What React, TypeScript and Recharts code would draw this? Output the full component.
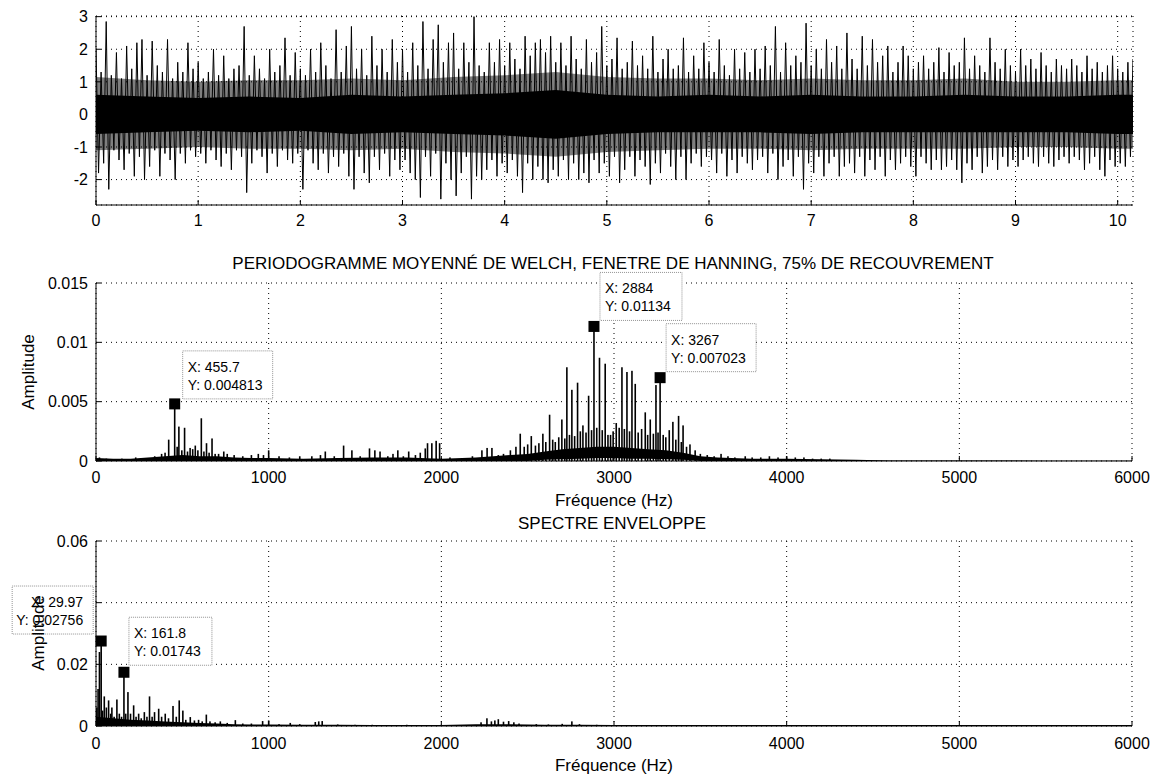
import React from "react";
import {
  ComposedChart, Line, Area, Bar, XAxis, YAxis, CartesianGrid, ReferenceDot,
} from "recharts";

const FONT = '"Liberation Sans", Arial, Helvetica, sans-serif';

// ---- top: raw signal (peak of each half-cycle, alternating sign) ----
const SIGNAL_STEP = 0.025;
const SIGNAL_PEAKS = [
  2.0, -1.8, 1.3, -1.5, 2.85, -2.3, 1.2, -1.1, 1.9, -1.4, 1.1, -1.7, 2.1, -1.2, 1.4, -1.9, 2.2, -1.3, 2.3, -2.0,
  1.2, -1.6, 2.25, -1.1, 1.5, -1.9, 1.3, -1.2, 2.3, -1.4, 1.1, -2.0, 1.6, -1.2, 1.3, -1.5, 2.2, -1.1, 1.4, -1.3,
  1.6, -1.2, 1.1, -1.5, 1.3, -1.1, 2.0, -1.4, 1.2, -1.6, 1.8, -1.2, 1.1, -1.7, 1.4, -1.1, 1.5, -1.3, 2.7, -2.4,
  1.2, -1.5, 1.8, -1.1, 1.4, -1.3, 1.1, -1.8, 2.0, -1.2, 1.3, -1.6, 1.5, -1.1, 2.35, -1.4, 1.2, -1.5, 1.9, -1.2,
  1.4, -2.3, 1.2, -1.1, 2.0, -1.5, 1.3, -1.7, 2.2, -1.2, 1.5, -1.8, 1.1, -1.3, 2.6, -1.6, 1.3, -1.2, 2.1, -1.9,
  2.7, -2.3, 1.4, -1.3, 2.0, -1.8, 1.2, -2.1, 2.4, -1.3, 1.5, -1.7, 2.0, -1.2, 1.3, -1.9, 2.3, -1.4, 1.6, -1.7,
  2.0, -1.4, 1.3, -1.8, 2.2, -2.0, 1.5, -2.55, 2.85, -1.3, 1.4, -1.9, 2.3, -1.2, 2.75, -2.6, 1.6, -1.5, 2.2, -2.0,
  2.5, -2.5, 1.4, -1.8, 2.2, -1.3, 1.6, -2.6, 3.0, -1.9, 1.5, -2.0, 1.3, -1.7, 2.2, -1.4, 1.6, -1.9, 2.3, -1.5,
  1.5, -1.8, 2.2, -1.4, 1.7, -1.9, 1.4, -2.4, 2.4, -1.5, 1.8, -2.0, 2.2, -1.6, 2.3, -2.0, 1.9, -2.1, 2.4, -1.7,
  1.6, -1.9, 2.2, -1.4, 1.5, -2.0, 2.4, -1.5, 1.7, -2.0, 1.4, -1.8, 2.3, -2.1, 1.6, -1.4, 1.9, -1.8, 2.7, -1.5,
  1.5, -1.9, 1.7, -1.3, 2.35, -2.1, 1.4, -1.7, 1.6, -1.3, 2.25, -1.9, 1.5, -1.4, 1.8, -1.6, 1.4, -2.15, 2.4, -1.5,
  1.3, -1.8, 1.7, -1.2, 2.0, -1.6, 1.4, -2.0, 1.5, -1.3, 2.35, -2.0, 1.3, -1.5, 1.8, -1.2, 1.4, -1.6, 2.2, -1.3,
  1.6, -1.4, 1.3, -1.8, 2.3, -1.2, 1.5, -1.9, 1.2, -1.4, 2.0, -1.8, 1.4, -1.3, 1.9, -1.5, 1.3, -1.7, 2.0, -1.4,
  1.4, -1.3, 2.1, -1.8, 1.5, -1.2, 2.7, -2.0, 1.3, -1.6, 2.2, -1.4, 1.5, -1.9, 1.8, -1.3, 1.6, -2.3, 2.8, -1.5,
  1.5, -1.8, 2.0, -1.3, 1.4, -1.9, 2.3, -1.5, 1.6, -1.3, 2.1, -1.9, 1.4, -1.6, 2.5, -1.5, 1.7, -1.8, 1.4, -1.3,
  2.4, -1.9, 1.5, -1.4, 2.3, -1.7, 1.6, -1.3, 1.8, -1.9, 2.1, -1.4, 1.3, -1.7, 1.6, -1.5, 2.1, -1.3, 1.8, -1.6,
  1.4, -1.9, 1.6, -1.3, 1.8, -1.5, 1.4, -1.7, 1.6, -1.4, 2.05, -1.7, 1.3, -1.6, 1.9, -1.4, 1.5, -1.7, 1.6, -2.1,
  2.35, -1.5, 1.4, -1.7, 1.8, -1.3, 1.5, -1.8, 1.3, -1.6, 2.35, -1.4, 1.6, -1.7, 1.4, -1.3, 2.0, -1.6, 1.5, -1.4,
  1.3, -1.6, 2.0, -1.4, 1.5, -1.3, 1.7, -1.5, 1.4, -1.6, 1.9, -1.3, 1.5, -1.5, 1.3, -1.6, 1.7, -1.4, 1.5, -1.3,
  1.4, -1.5, 1.7, -1.3, 1.5, -1.4, 1.3, -1.7, 1.8, -1.5, 1.4, -1.3, 1.6, -1.7, 1.3, -1.9, 1.5, -1.4, 1.8, -1.6,
  1.4, -1.5, 1.3, -1.6, 1.6, -1.3, 1.7,
];
// envelopes of the solid black core and of the dense band around it
const BAND_T = [0, 0.5, 1, 1.5, 2, 2.5, 3, 3.5, 4, 4.5, 5, 5.5, 6, 6.5, 7, 7.5, 8, 8.5, 9, 9.5, 10, 10.15];
const CORE_HI = [0.6, 0.55, 0.5, 0.55, 0.5, 0.6, 0.55, 0.6, 0.65, 0.75, 0.6, 0.55, 0.6, 0.55, 0.6, 0.55, 0.55, 0.6, 0.55, 0.55, 0.6, 0.6];
const CORE_LO = [-0.6, -0.55, -0.5, -0.55, -0.5, -0.6, -0.55, -0.6, -0.65, -0.75, -0.6, -0.55, -0.55, -0.55, -0.6, -0.55, -0.55, -0.55, -0.55, -0.55, -0.6, -0.6];
const DENSE_HI = [1.15, 1.05, 1.0, 1.05, 1.05, 1.1, 1.05, 1.15, 1.2, 1.3, 1.15, 1.1, 1.1, 1.05, 1.1, 1.05, 1.05, 1.1, 1.0, 1.0, 1.05, 1.05];
const DENSE_LO = [-1.1, -1.05, -1.0, -1.05, -1.05, -1.1, -1.05, -1.15, -1.2, -1.3, -1.15, -1.1, -1.05, -1.05, -1.1, -1.05, -1.05, -1.05, -1.0, -1.0, -1.05, -1.05];
const TIME_TICKS = [0, 1, 2, 3, 4, 5, 6, 7, 8, 9, 10];
const SIGNAL_TICKS = [-2, -1, 0, 1, 2, 3];

// ---- middle: Welch periodogram ----
const WELCH_F = [
  20, 60, 150, 230, 300, 340, 380, 400, 421, 455.7,
  470, 480, 497, 513, 530, 545, 560, 575, 590, 610,
  625, 640, 655, 672, 690, 710, 740, 760, 800, 850,
  900, 940, 970, 1000, 1060, 1120, 1180, 1250, 1300, 1328,
  1380, 1434, 1482, 1530, 1584, 1615, 1645, 1690, 1720, 1748,
  1780, 1811, 1850, 1878, 1907, 1920, 1945, 1970, 1990, 2050,
  2120, 2180, 2235, 2265, 2293, 2330, 2360, 2400, 2432, 2457,
  2480, 2500, 2521, 2545, 2565, 2588, 2605, 2627, 2645, 2660,
  2680, 2698, 2715, 2727, 2742, 2756, 2772, 2789, 2805, 2820,
  2838, 2853, 2870, 2884, 2900, 2916, 2932, 2949, 2965, 2980,
  2995, 3013, 3030, 3046, 3060, 3075, 3090, 3104, 3123, 3140,
  3160, 3181, 3195, 3210, 3228, 3243, 3255, 3267, 3285, 3300,
  3320, 3341, 3358, 3374, 3390, 3400, 3420, 3440, 3470, 3500,
  3540, 3580, 3620, 3660, 3700, 3760, 3800, 3850, 3900, 3950,
  4000, 4050, 4100, 4150, 4200, 4250,
];
const WELCH_A = [
  0.0003, 0.0002, 0.0002, 0.0003, 0.0002, 0.0004, 0.0006, 0.0007, 0.0018, 0.004813,
  0.0012, 0.0029, 0.0009, 0.0028, 0.0008, 0.0011, 0.001, 0.0013, 0.0009, 0.0036,
  0.0008, 0.0015, 0.0007, 0.0019, 0.0006, 0.0006, 0.0008, 0.0006, 0.0005, 0.0004,
  0.0005, 0.0006, 0.0005, 0.0009, 0.0004, 0.0003, 0.0004, 0.0004, 0.0005, 0.0008,
  0.0004, 0.0013, 0.0009, 0.0004, 0.00106, 0.0009, 0.0008, 0.0004, 0.0006, 0.0009,
  0.0004, 0.0008, 0.0005, 0.0007, 0.00106, 0.0015, 0.0015, 0.0017, 0.0015, 0.0003,
  0.0002, 0.0004, 0.0009, 0.0011, 0.0011, 0.0005, 0.0006, 0.0009, 0.0012, 0.0023,
  0.0012, 0.0014, 0.0021, 0.0013, 0.0015, 0.0023, 0.0016, 0.0039, 0.0018, 0.0016,
  0.002, 0.0035, 0.0019, 0.0079, 0.0022, 0.006, 0.0021, 0.0066, 0.0025, 0.003,
  0.0024, 0.0055, 0.0026, 0.01134, 0.0028, 0.0087, 0.0026, 0.0082, 0.0022, 0.0022,
  0.0025, 0.0032, 0.0028, 0.0079, 0.0027, 0.0075, 0.0025, 0.0076, 0.0065, 0.0024,
  0.0027, 0.0041, 0.0022, 0.0035, 0.0023, 0.0064, 0.0024, 0.007023, 0.0022, 0.002,
  0.0026, 0.0033, 0.0018, 0.0038, 0.0016, 0.003, 0.0012, 0.0014, 0.0009, 0.0006,
  0.0005, 0.0004, 0.0006, 0.0004, 0.0003, 0.0004, 0.0003, 0.0003, 0.0004, 0.0003,
  0.0004, 0.0003, 0.0003, 0.0002, 0.0002, 0.0002,
];
// noise floor of the periodogram (lower and upper edge of the black band)
const WELCH_FLOOR_F = [0, 100, 200, 300, 400, 500, 600, 700, 800, 900, 1000, 1200, 1400, 1600, 1800, 2000, 2200, 2300, 2400, 2500, 2600, 2700, 2800, 2900, 3000, 3100, 3200, 3300, 3400, 3500, 3600, 3800, 4000, 4200, 4400, 4600, 5000, 5500, 6000];
const WELCH_FLOOR_LO = [0, 0, 0, 0, 0, 0, 0, 0, 0, 0, 0, 0, 0, 0, 0, 0, 0, 0, 0, 0, 0.0001, 0.00015, 0.0002, 0.00025, 0.00025, 0.0002, 0.0002, 0.00015, 0.0001, 0, 0, 0, 0, 0, 0, 0, 0, 0, 0];
const WELCH_FLOOR_HI = [0.00025, 0.0002, 0.0002, 0.0003, 0.0004, 0.0005, 0.0004, 0.0004, 0.0003, 0.00025, 0.00025, 0.0002, 0.00025, 0.0003, 0.0003, 0.0002, 0.0003, 0.0004, 0.0005, 0.0006, 0.0008, 0.001, 0.0011, 0.0012, 0.0012, 0.0011, 0.001, 0.0009, 0.0007, 0.0004, 0.0003, 0.0002, 0.0002, 0.00015, 0.0001, 0.00005, 0.00005, 0.00003, 0.00003];
const WELCH_TICKS = [0, 0.005, 0.01, 0.015];
const WELCH_TIP_X = [455.7, 2884, 3267];
const WELCH_TIP_Y = [0.004813, 0.01134, 0.007023];

// ---- bottom: envelope spectrum ----
const ENV_F = [
  5, 12, 20, 29.97, 38, 48, 60, 73, 85, 92,
  105, 121, 135, 148, 161.8, 172, 185, 200, 218, 232,
  247, 262, 280, 295, 310, 325, 339, 363, 380, 401,
  420, 446, 465, 482, 503, 520, 546, 570, 594, 615,
  639, 660, 690, 720, 760, 807, 850, 900, 965, 1000,
  1060, 1125, 1180, 1270, 1290, 1310, 1400, 1500, 1600, 1700,
  1800, 1900, 2000, 2100, 2230, 2264, 2290, 2310, 2330, 2360,
  2390, 2420, 2450, 2550, 2620, 2700, 2756, 2800, 2900, 3100,
  3400, 3800, 4200, 4600, 5000, 5400, 5800,
];
const ENV_A = [
  0.006, 0.012, 0.024, 0.02756, 0.005, 0.0096, 0.006, 0.0083, 0.004, 0.006,
  0.003, 0.0086, 0.004, 0.003, 0.01743, 0.004, 0.011, 0.004, 0.0067, 0.003,
  0.004, 0.0025, 0.0045, 0.003, 0.0096, 0.003, 0.0045, 0.0056, 0.003, 0.004,
  0.0025, 0.0065, 0.003, 0.0083, 0.005, 0.002, 0.0029, 0.0018, 0.002, 0.0015,
  0.0037, 0.0015, 0.0012, 0.0015, 0.001, 0.0019, 0.0008, 0.0008, 0.0016, 0.0018,
  0.0006, 0.001, 0.0006, 0.0013, 0.0015, 0.0016, 0.0005, 0.0004, 0.0004, 0.0003,
  0.0004, 0.0003, 0.0004, 0.0003, 0.0012, 0.0025, 0.0015, 0.0018, 0.0022, 0.0014,
  0.0016, 0.0012, 0.0008, 0.0006, 0.0005, 0.0007, 0.0015, 0.0006, 0.0004, 0.0003,
  0.0003, 0.0002, 0.0002, 0.0002, 0.0002, 0.0002, 0.0002,
];
const ENV_FLOOR_F = [0, 100, 200, 300, 400, 500, 600, 700, 800, 900, 1000, 1200, 1400, 1600, 2000, 2200, 2400, 2600, 2800, 3000, 3500, 4000, 4500, 5000, 5500, 6000];
const ENV_FLOOR_HI = [0.003, 0.0025, 0.002, 0.0018, 0.0015, 0.0012, 0.001, 0.0008, 0.0006, 0.0005, 0.0005, 0.0004, 0.0004, 0.0003, 0.0003, 0.0006, 0.0006, 0.0004, 0.0004, 0.0003, 0.0003, 0.0003, 0.0003, 0.0003, 0.0003, 0.0003];
const ENV_TICKS = [0, 0.02, 0.04, 0.06];
const ENV_TIP_X = [29.97, 161.8];
const ENV_TIP_Y = [0.02756, 0.01743];

const FREQ_TICKS = [0, 1000, 2000, 3000, 4000, 5000, 6000];

// rows built from the arrays above
const SIGNAL = SIGNAL_PEAKS.map((v, i) => ({ t: +(i * SIGNAL_STEP).toFixed(3), v }));
const CORE = BAND_T.map((t, i) => ({ t, band: [CORE_LO[i], CORE_HI[i]] }));
const DENSE = BAND_T.map((t, i) => ({ t, band: [DENSE_LO[i], DENSE_HI[i]] }));
const WELCH = WELCH_F.map((f, i) => ({ f, a: WELCH_A[i] }));
const WELCH_FLOOR = WELCH_FLOOR_F.map((f, i) => ({ f, band: [WELCH_FLOOR_LO[i], WELCH_FLOOR_HI[i]] }));
const ENV = ENV_F.map((f, i) => ({ f, a: ENV_A[i] }));
const ENV_FLOOR = ENV_FLOOR_F.map((f, i) => ({ f, floor: ENV_FLOOR_HI[i] }));
const WELCH_TIPS = WELCH_TIP_X.map((f, i) => ({ f, a: WELCH_TIP_Y[i] }));
const ENV_TIPS = ENV_TIP_X.map((f, i) => ({ f, a: ENV_TIP_Y[i] }));

// datatip box placement relative to the marker
const WELCH_TIP_BOX = [
  { dx: 8, dy: -53, w: 90, align: "start" },
  { dx: 6, dy: -54, w: 82, align: "start" },
  { dx: 6, dy: -54, w: 90, align: "start" },
];
const ENV_TIP_BOX = [
  { dx: -89, dy: -55, w: 81, align: "end" },
  { dx: 5, dy: -55, w: 83, align: "start" },
];

const axisTick = { fill: "#000", fontSize: 16, fontFamily: FONT };
const black = { stroke: "#000" };
const LEFT = 96;
const SPIKE_W = 1.6;

function frame(
  xKey: string, xDomain: number[], xTicks: number[],
  yDomain: number[], yTicks: number[], xHeight: number, xMargin: number,
) {
  return [
    <CartesianGrid key="grid" stroke="#000" strokeDasharray="1 4" />,
    <XAxis
      key="x" dataKey={xKey} type="number" domain={xDomain} ticks={xTicks} allowDataOverflow
      interval={0} height={xHeight} tick={axisTick} tickSize={-5} tickMargin={xMargin}
      axisLine={black} tickLine={black}
    />,
    <XAxis
      key="xt" xAxisId="top" orientation="top" dataKey={xKey} type="number" domain={xDomain}
      ticks={xTicks} allowDataOverflow interval={0} height={0} tick={false} tickSize={-5}
      axisLine={black} tickLine={black}
    />,
    <YAxis
      key="y" type="number" domain={yDomain} ticks={yTicks} allowDataOverflow interval={0}
      width={LEFT} tick={axisTick} tickSize={-5} tickMargin={13} axisLine={black} tickLine={black}
    />,
    <YAxis
      key="yr" yAxisId="right" orientation="right" type="number" domain={yDomain} ticks={yTicks}
      allowDataOverflow interval={0} width={0} tick={false} tickSize={-5}
      axisLine={black} tickLine={black}
    />,
  ];
}

// spectral line: a thin black stick centred on the bar slot
// eslint-disable-next-line @typescript-eslint/no-explicit-any
function Spike({ x, y, width, height }: any) {
  if (x == null || height == null) return null;
  return <rect x={x + width / 2 - SPIKE_W / 2} y={y} width={SPIKE_W} height={height} fill="#000" />;
}

// eslint-disable-next-line @typescript-eslint/no-explicit-any
function Datatip({ cx, cy, x, y, box }: any) {
  if (cx == null || cy == null) return null;
  const left = cx + box.dx;
  const top = cy + box.dy;
  const tx = box.align === "end" ? left + box.w - 10 : left + 5;
  return (
    <g>
      <rect x={left} y={top} width={box.w} height={48} fill="#fff" stroke="#777" strokeWidth={0.8} strokeDasharray="1 1" />
      <text x={tx} y={top + 21} fontSize={14} fontFamily={FONT} textAnchor={box.align} fill="#000">X: {x}</text>
      <text x={tx} y={top + 39} fontSize={14} fontFamily={FONT} textAnchor={box.align} fill="#000">Y: {y}</text>
      <rect x={cx - 5.5} y={cy - 5.5} width={11} height={11} fill="#000" />
    </g>
  );
}

// a second, transparent chart on top of a spectrum, holding only the datatips
// (so that the boxes cover the axis labels as in the original figure)
function TipLayer({ tips, boxes, yDomain, height, top, bottom, right }: {
  tips: { f: number; a: number }[]; boxes: typeof WELCH_TIP_BOX; yDomain: number[];
  height: number; top: number; bottom: number; right: number;
}) {
  return (
    <ComposedChart width={1160} height={height} data={tips} margin={{ top, right, bottom, left: LEFT }}>
      <XAxis dataKey="f" type="number" domain={[0, 6000]} allowDataOverflow hide />
      <YAxis type="number" domain={yDomain} allowDataOverflow hide />
      {tips.map((tip, i) => (
        <ReferenceDot
          key={i} x={tip.f} y={tip.a} ifOverflow="visible"
          shape={(p: object) => <Datatip {...p} x={tip.f} y={tip.a} box={boxes[i]} />}
        />
      ))}
    </ComposedChart>
  );
}

export default function App() {
  return (
    <div style={{ position: "absolute", left: 0, top: 0, width: 1160, height: 777, background: "#fff", fontFamily: FONT }}>
      <div style={{ position: "absolute", left: 0, top: 0 }}>
        <ComposedChart width={1160} height={240} data={SIGNAL} margin={{ top: 16, right: 27, bottom: 0, left: 0 }}>
          {frame("t", [0, 10.15], TIME_TICKS, [-2.78, 3.02], SIGNAL_TICKS, 35, 15)}
          <Area data={DENSE} dataKey="band" stroke="none" fill="#000" fillOpacity={0.5} isAnimationActive={false} />
          <Area data={CORE} dataKey="band" stroke="none" fill="#000" fillOpacity={1} isAnimationActive={false} />
          <Line dataKey="v" stroke="#000" strokeWidth={1} dot={false} isAnimationActive={false} />
        </ComposedChart>
      </div>

      <div style={{ position: "absolute", left: 0, top: 240 }}>
        <ComposedChart width={1160} height={250} data={WELCH} margin={{ top: 43, right: 28, bottom: 0, left: 0 }}>
          {frame("f", [0, 6000], FREQ_TICKS, [0, 0.015], WELCH_TICKS, 29, 16)}
          <Area data={WELCH_FLOOR} dataKey="band" stroke="none" fill="#000" fillOpacity={1} isAnimationActive={false} />
          <Bar dataKey="a" fill="#000" shape={<Spike />} isAnimationActive={false} />
        </ComposedChart>
      </div>
      <div style={{ position: "absolute", left: 0, top: 240 }}>
        <TipLayer tips={WELCH_TIPS} boxes={WELCH_TIP_BOX} yDomain={[0, 0.015]} height={250} top={43} bottom={29} right={28} />
      </div>

      <div style={{ position: "absolute", left: 0, top: 500 }}>
        <ComposedChart width={1160} height={277} data={ENV} margin={{ top: 41, right: 28, bottom: 0, left: 0 }}>
          {frame("f", [0, 6000], FREQ_TICKS, [0, 0.06], ENV_TICKS, 51, 17)}
          <Area data={ENV_FLOOR} dataKey="floor" stroke="none" fill="#000" fillOpacity={1} isAnimationActive={false} />
          <Bar dataKey="a" fill="#000" shape={<Spike />} isAnimationActive={false} />
        </ComposedChart>
      </div>
      <div style={{ position: "absolute", left: 0, top: 500 }}>
        <TipLayer tips={ENV_TIPS} boxes={ENV_TIP_BOX} yDomain={[0, 0.06]} height={277} top={41} bottom={51} right={28} />
      </div>

      <svg width={1160} height={777} style={{ position: "absolute", left: 0, top: 0, pointerEvents: "none" }} fontFamily={FONT} fontSize={17}>
        <text x={613} y={263} textAnchor="middle" dominantBaseline="central">
          PERIODOGRAMME MOYENNÉ DE WELCH, FENETRE DE HANNING, 75% DE RECOUVREMENT
        </text>
        <text x={614} y={500} textAnchor="middle" dominantBaseline="central">Fréquence (Hz)</text>
        <text x={612} y={523} textAnchor="middle" dominantBaseline="central">SPECTRE ENVELOPPE</text>
        <text x={614} y={765} textAnchor="middle" dominantBaseline="central">Fréquence (Hz)</text>
        <text transform="translate(28,372) rotate(-90)" textAnchor="middle" dominantBaseline="central">Amplitude</text>
        <text transform="translate(38,633) rotate(-90)" textAnchor="middle" dominantBaseline="central">Amplitude</text>
      </svg>
    </div>
  );
}
